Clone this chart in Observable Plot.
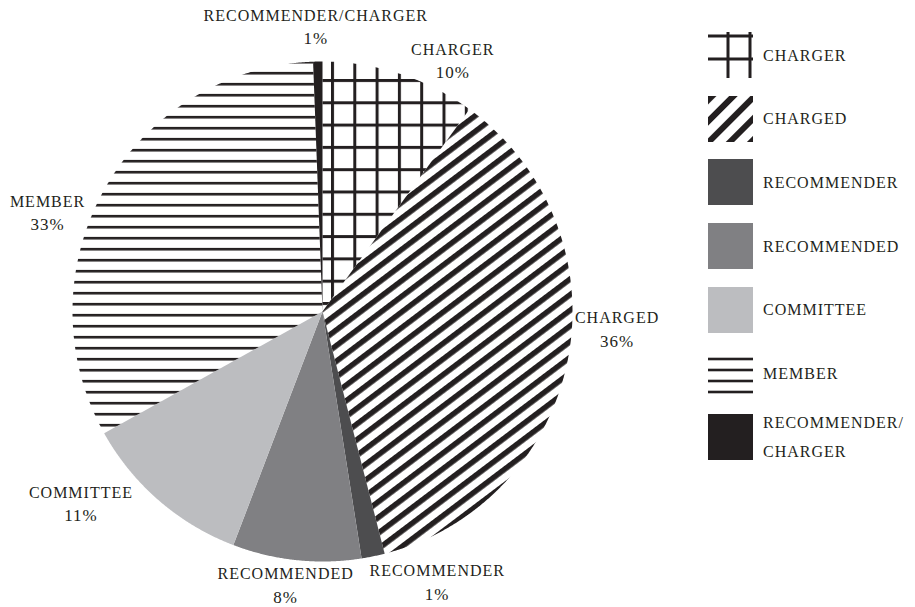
<!DOCTYPE html>
<html><head><meta charset="utf-8">
<script src="https://cdn.jsdelivr.net/npm/d3@7"></script>
<script src="https://cdn.jsdelivr.net/npm/@observablehq/plot@0.6"></script>
<style>
body{margin:0;background:#fff;font-family:"Liberation Serif",serif;color:#231f20}
#wrap{position:relative;width:915px;height:607px;overflow:hidden}
#chart{position:absolute;left:0;top:0}
#legend{position:absolute;left:708px;top:0;width:207px;height:607px}
.item{position:absolute;left:0;display:flex;align-items:center}
.item svg{display:block;flex:none}
.item span{margin-left:10px;font-size:16px;letter-spacing:1px;line-height:29px;white-space:nowrap}
</style></head><body>
<svg width="0" height="0" style="position:absolute">
  <defs>
    <pattern id="p-grid" patternUnits="userSpaceOnUse" width="22.3" height="22.3" x="18.3" y="11.6">
      <rect x="0" y="0" width="3" height="22.3" fill="#231f20"/>
      <rect x="0" y="0" width="22.3" height="3" fill="#231f20"/>
    </pattern>
    <pattern id="p-diag" patternUnits="userSpaceOnUse" width="12.5" height="12.5" patternTransform="rotate(-37)">
      <rect x="0" y="0" width="12.5" height="5.5" fill="#231f20"/>
    </pattern>
    <pattern id="p-diag-l" patternUnits="userSpaceOnUse" width="15" height="15" patternTransform="rotate(-45)">
      <rect x="0" y="0" width="15" height="6" fill="#231f20"/>
    </pattern>
    <pattern id="p-horiz" patternUnits="userSpaceOnUse" width="10" height="11" y="5.4">
      <rect x="0" y="0" width="10" height="2.6" fill="#231f20"/>
    </pattern>
  </defs>
</svg>
<div id="wrap"><div id="chart"></div><div id="legend"></div></div>
<script>
// ---- data ----
const categories = ["CHARGER", "CHARGED", "RECOMMENDER", "RECOMMENDED", "COMMITTEE", "MEMBER", "RECOMMENDER/CHARGER"];
const shares = [10, 36, 1.5, 8.3, 11.1, 32.5, 0.6];
const percentLabels = ["10%", "36%", "1%", "8%", "11%", "33%", "1%"];
const legendLines = [["CHARGER"], ["CHARGED"], ["RECOMMENDER"], ["RECOMMENDED"], ["COMMITTEE"], ["MEMBER"], ["RECOMMENDER/", "CHARGER"]];

// ---- styles / layout ----
const fills = ["url(#p-grid)", "url(#p-diag)", "#4d4d4f", "#808083", "#bcbdc0", "url(#p-horiz)", "#231f20"];
const legendKinds = ["grid", "diag", "solid", "solid", "solid", "lines", "solid"];
const labelNudge = [[53, -24], [49, -40], [64, 15], [-11, 14], [-78, -8], [-57, 13], [-2, -46]];
const W = 700, H = 607, cx = 322, cy = 311, R = 250;

const arcs = d3.pie().sort(null).value(d => d)(shares);
const slices = arcs.map((a, i) => {
  const pts = [{x: 0, y: 0}];
  const n = Math.max(2, Math.ceil((a.endAngle - a.startAngle) / (Math.PI / 720)));
  for (let k = 0; k <= n; k++) {
    const t = a.startAngle + (a.endAngle - a.startAngle) * k / n;
    pts.push({x: Math.sin(t), y: Math.cos(t)});
  }
  return pts;
});
const labels = arcs.map((a, i) => {
  const m = (a.startAngle + a.endAngle) / 2;
  return {
    name: categories[i],
    pct: percentLabels[i],
    x: Math.sin(m) + labelNudge[i][0] / R,
    y: Math.cos(m) - labelNudge[i][1] / R
  };
});

const chart = Plot.plot({
  width: W, height: H, margin: 0,
  x: {domain: [-cx / R, (W - cx) / R], axis: null},
  y: {domain: [-(H - cy) / R, cy / R], axis: null},
  style: {background: "transparent", color: "#231f20"},
  marks: [
    ...slices.map((pts, i) => Plot.line(pts, {x: "x", y: "y", fill: fills[i], stroke: "none", curve: "linear-closed"})),
    Plot.text(labels, {x: "x", y: "y", text: "name", fontSize: 16, fill: "#231f20", fontFamily: "Liberation Serif"}),
    Plot.text(labels, {x: "x", y: "y", text: "pct", dy: 23, fontSize: 17, fill: "#231f20", fontFamily: "Liberation Serif"})
  ]
});
chart.querySelectorAll("text").forEach(t => t.style.letterSpacing = "1px");
document.getElementById("chart").appendChild(chart);

// ---- legend ----
const legend = document.getElementById("legend");
const ns = "http://www.w3.org/2000/svg";
legendLines.forEach((lines, i) => {
  const item = document.createElement("div");
  item.className = "item";
  const svg = document.createElementNS(ns, "svg");
  svg.setAttribute("width", 45); svg.setAttribute("height", 46);
  const add = (tag, attrs) => { const e = document.createElementNS(ns, tag); for (const k in attrs) e.setAttribute(k, attrs[k]); svg.appendChild(e); };
  const kind = legendKinds[i];
  if (kind === "grid") {
    [20, 42].forEach(x => add("rect", {x: x - 1.5, y: 0, width: 3, height: 46, fill: "#231f20"}));
    [4, 27].forEach(y => add("rect", {x: 0, y: y - 1.5, width: 45, height: 3, fill: "#231f20"}));
  } else if (kind === "diag") {
    add("rect", {x: 0, y: 0, width: 45, height: 46, fill: "url(#p-diag-l)"});
  } else if (kind === "lines") {
    [8, 19, 30, 41].forEach(y => add("rect", {x: 0, y: y - 1.3, width: 45, height: 2.6, fill: "#231f20"}));
  } else {
    add("rect", {x: 0, y: 0, width: 45, height: 46, fill: fills[i]});
  }
  item.appendChild(svg);
  const span = document.createElement("span");
  span.innerHTML = lines.join("<br>");
  item.appendChild(span);
  legend.appendChild(item);
  const swatchTop = 32 + 63.7 * i;
  item.style.top = (swatchTop - (item.offsetHeight - 46) / 2) + "px";
});
</script>
</body></html>
